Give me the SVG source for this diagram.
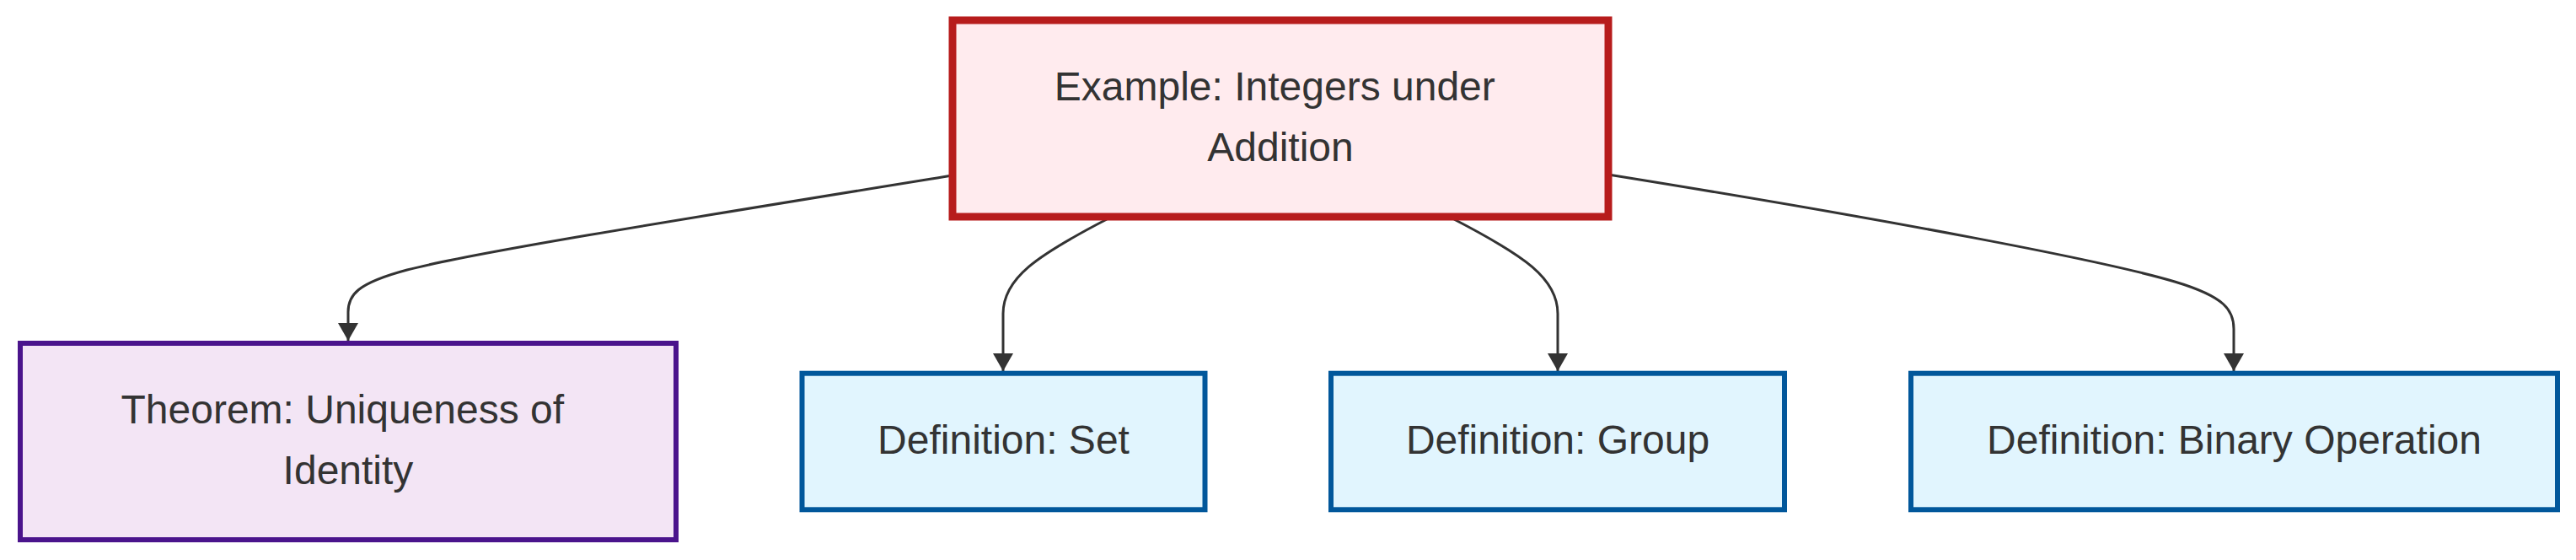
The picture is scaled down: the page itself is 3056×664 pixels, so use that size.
<svg xmlns="http://www.w3.org/2000/svg" width="3056" height="664" viewBox="0 0 3056 664">
<style>
text{font-family:"Liberation Sans",Arial,sans-serif;font-size:48px;fill:#333333;text-anchor:middle}
.edge{fill:none;stroke:#333333;stroke-width:3}
.ex{fill:#ffebee;stroke:#b71c1c;stroke-width:9}
.th{fill:#f3e5f5;stroke:#4a148c;stroke-width:6}
.df{fill:#e1f5fe;stroke:#01579b;stroke-width:6}
</style>
<defs>
<marker id="arrow" viewBox="0 0 10 10" refX="10" refY="5" markerUnits="userSpaceOnUse" markerWidth="21" markerHeight="24" orient="auto" preserveAspectRatio="none">
<path d="M0,0 L10,5 L0,10 z" fill="#333333"/>
</marker>
</defs>
<rect width="3056" height="664" fill="#ffffff"/>
<g id="connectors">
<path class="edge" marker-end="url(#arrow)" d="M1130,208 C790,263 560,300 483,320 C423,336 413,350 413,370 L413,404"/>
<path class="edge" marker-end="url(#arrow)" d="M1313,260 C1230,303 1190,330 1190,372 L1190,440"/>
<path class="edge" marker-end="url(#arrow)" d="M1725,260 C1808,303 1848,330 1848,372 L1848,440"/>
<path class="edge" marker-end="url(#arrow)" d="M1908,207 C2250,262 2500,310 2580,334 C2640,352 2650,368 2650,390 L2650,440"/>
</g>
<g id="node-example">
<rect class="ex" x="1130" y="24" width="778" height="233"/>
<text x="1512.3" y="119">Example: Integers under</text>
<text x="1519" y="191">Addition</text>
</g>
<g id="node-theorem">
<rect class="th" x="24" y="407" width="778" height="233"/>
<text x="406.3" y="502">Theorem: Uniqueness of</text>
<text x="413" y="574">Identity</text>
</g>
<g id="node-set">
<rect class="df" x="951.5" y="442.7" width="478" height="161.6"/>
<text x="1190.5" y="538">Definition: Set</text>
</g>
<g id="node-group">
<rect class="df" x="1579" y="442.7" width="538" height="161.6"/>
<text x="1848" y="538">Definition: Group</text>
</g>
<g id="node-binary">
<rect class="df" x="2267" y="442.7" width="767" height="161.6"/>
<text x="2650.5" y="538">Definition: Binary Operation</text>
</g>
</svg>
